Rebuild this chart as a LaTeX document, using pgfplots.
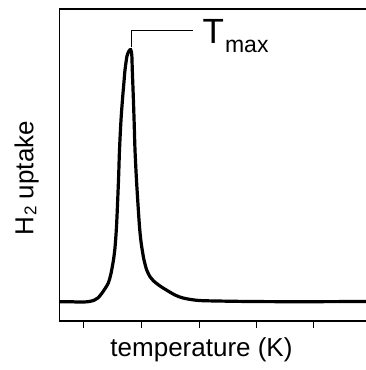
\documentclass[border=0pt]{standalone}
\usepackage{pgfplots}
\pgfplotsset{compat=1.18}
\usepackage{fontspec}
\setmainfont{Liberation Sans}
\begin{document}
\begin{tikzpicture}
\useasboundingbox (0,0) rectangle (366pt,370pt);
\begin{axis}[
  at={(59.3pt,49pt)}, anchor=south west,
  scale only axis, width=306.7pt, height=312pt,
  xmin=59.3, xmax=366, ymin=-19.3, ymax=292.7,
  axis y line*=left,
  axis line style={line width=1.4pt,-},
  xtick={83.3,141.7,199.2,256.7,313.3}, xticklabels={},
  ytick=\empty,
  xtick pos=left, tick align=outside,
  major tick length=7pt,
  every tick/.style={black,line width=1.3pt},
  clip=false,
]
\addplot[black, line width=3.2pt, smooth, tension=0.5] coordinates {
(59.3,0) (70,0) (80,-0.4) (88,0) (94,1.4) (98,3.8) (101.7,8.2) (105,13)
(108.3,18.7) (110.5,26) (111.7,31.7) (113.5,42) (115,54) (116.5,75)
(117.7,101.7) (118.7,127) (119.5,151.7) (121,181.7) (122.7,205) (124,220)
(125,231.7) (127,245.7) (129,250.7) (130.7,252) (131.8,246.7) (132.3,231.7)
(133.3,205) (134.2,178) (135,151.7) (136.3,125) (137.7,101.7) (139.5,75)
(141,60) (142.5,50) (144,41.7) (146.7,31.7) (150,25) (153.3,21)
(160,15.7) (166.7,11.5) (175,6.7) (183,3.7) (195,1.6) (206.7,0.9)
(250,0.2) (300,0) (366,0.2)
};
\draw[black, line width=1pt] (axis cs:131.7,254.7) |- (axis cs:193.3,271);
\node[anchor=base west, inner sep=0pt] at (axis cs:202.5,258.4)
  {\fontsize{35}{35}\selectfont T\kern1pt\raisebox{-9pt}{\fontsize{23}{23}\selectfont max}};
\node[anchor=base, inner sep=0pt] at (axis cs:201.5,-55)
  {\fontsize{26}{26}\selectfont temperature (K)};
\node[anchor=base, rotate=90, inner sep=0pt] at (axis cs:33.3,123.7)
  {\fontsize{26}{26}\selectfont H\kern0.5pt\raisebox{-3pt}{\fontsize{17}{17}\selectfont 2} uptake};
\end{axis}
\end{tikzpicture}
\end{document}
